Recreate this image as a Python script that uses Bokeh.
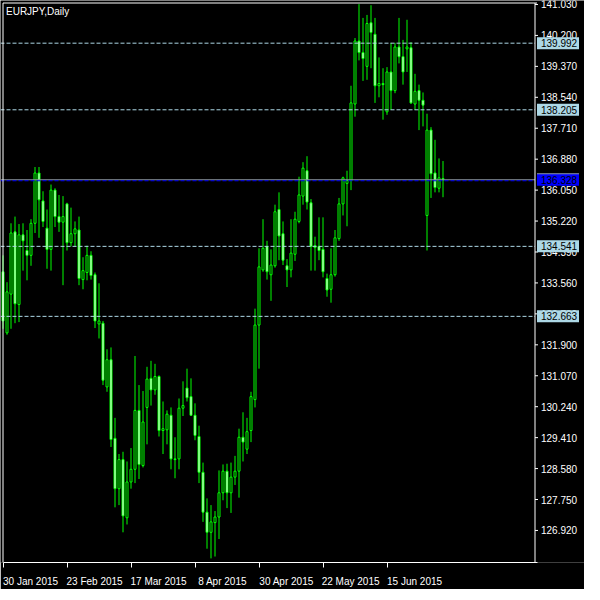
import pandas as pd
from bokeh.plotting import figure
from bokeh.models import (ColumnDataSource, Range1d, FixedTicker, Label, LinearAxis,
                          CustomLabelingPolicy)
from bokeh.core.properties import value
from bokeh.embed import file_html
from bokeh.resources import INLINE

chart_title = "EURJPY,Daily"
dates = pd.bdate_range("2015-01-30", periods=111)

opens = [133.86, 132.22, 133.26, 134.93, 132.98, 134.85, 134.43, 134.30, 135.16, 136.51,
         135.76, 135.03, 134.46, 136.05, 135.34, 135.19, 135.68, 134.64, 134.88, 134.98,
         133.65, 133.84, 134.30, 133.78, 132.46, 132.48, 130.77, 131.50, 129.39, 128.04,
         128.82, 127.26, 128.22, 128.56, 130.14, 128.66, 130.22, 131.00, 130.69, 131.05,
         129.60, 129.62, 130.01, 128.84, 128.84, 130.20, 130.74, 130.51, 130.01, 129.44,
         128.48, 127.41, 126.87, 127.13, 127.28, 127.93, 128.51, 127.93, 128.35, 128.51,
         129.42, 129.10, 129.60, 130.43, 132.43, 133.91, 134.54, 133.78, 134.02, 135.53,
         134.88, 134.02, 133.91, 134.33, 135.21, 135.89, 136.57, 135.71, 134.51, 134.54,
         134.46, 133.68, 133.39, 133.78, 134.75, 135.68, 136.23, 136.31, 138.36, 140.05,
         139.74, 139.37, 140.54, 140.23, 138.85, 138.91, 138.15, 139.22, 138.72, 139.89,
         139.63, 139.84, 139.87, 138.36, 138.72, 138.46, 135.37, 137.66, 136.51, 136.10,
         136.36]
highs = [134.30, 133.58, 135.16, 135.34, 135.14, 135.16, 134.98, 135.27, 136.67, 136.67,
         136.02, 135.53, 136.20, 136.10, 135.92, 135.89, 135.71, 135.58, 135.21, 135.34,
         134.25, 134.56, 134.41, 133.84, 133.55, 132.54, 131.78, 131.83, 129.94, 128.97,
         129.03, 128.77, 129.13, 131.60, 130.82, 130.66, 131.31, 131.47, 131.39, 131.08,
         130.38, 130.14, 130.22, 129.42, 130.46, 130.92, 131.26, 131.00, 130.33, 129.73,
         128.74, 127.78, 127.60, 127.44, 128.53, 128.69, 128.71, 128.74, 128.92, 129.65,
         130.09, 129.94, 130.64, 132.87, 134.49, 135.27, 134.69, 134.46, 135.66, 135.99,
         135.21, 134.20, 135.27, 135.47, 136.41, 136.80, 136.96, 135.81, 134.80, 135.32,
         135.32, 133.81, 134.49, 134.98, 135.84, 136.41, 136.57, 138.85, 140.13, 141.04,
         140.67, 140.75, 141.01, 140.67, 139.61, 139.32, 139.35, 140.00, 140.00, 140.67,
         140.08, 140.62, 140.02, 139.17, 138.88, 138.67, 138.10, 137.74, 137.40, 136.90,
         136.83]
lows = [132.33, 132.17, 132.33, 132.48, 132.51, 133.89, 133.63, 134.02, 134.90, 134.77,
        135.06, 133.94, 133.89, 135.06, 134.93, 133.50, 134.43, 134.54, 134.54, 133.50,
        133.39, 133.63, 133.65, 132.35, 132.07, 130.82, 130.64, 129.16, 127.54, 127.60,
        126.87, 127.08, 128.04, 128.19, 128.30, 128.61, 129.23, 130.27, 130.56, 129.44,
        128.97, 129.23, 128.56, 128.32, 128.56, 129.99, 130.38, 129.99, 129.34, 128.19,
        127.15, 126.43, 126.17, 126.22, 126.69, 127.73, 127.52, 127.39, 128.14, 127.80,
        128.77, 128.97, 129.29, 130.22, 131.26, 133.86, 133.65, 133.08, 133.97, 134.17,
        134.04, 133.45, 133.71, 134.15, 135.16, 135.66, 135.53, 133.89, 133.89, 134.17,
        133.71, 133.19, 133.03, 133.73, 134.69, 135.37, 135.08, 136.05, 138.02, 139.53,
        138.98, 139.01, 139.32, 138.39, 138.54, 137.94, 138.07, 138.20, 138.65, 139.45,
        138.88, 139.22, 138.36, 138.20, 137.66, 137.76, 134.43, 135.84, 135.99, 135.99,
        135.86]
closes = [132.54, 133.32, 134.90, 133.00, 134.85, 134.69, 134.30, 135.16, 136.51, 135.79,
          135.21, 134.46, 136.05, 135.34, 135.19, 135.34, 134.64, 134.88, 135.01, 133.68,
          133.89, 134.30, 133.76, 132.54, 132.54, 130.95, 131.50, 129.36, 128.04, 128.82,
          127.31, 128.22, 128.56, 130.14, 128.69, 129.83, 130.98, 130.69, 131.05, 129.60,
          129.65, 130.04, 128.84, 128.82, 130.20, 130.27, 130.48, 130.01, 129.47, 128.48,
          127.41, 126.87, 127.15, 127.28, 127.93, 128.51, 127.93, 128.35, 128.51, 129.42,
          129.29, 129.57, 130.51, 132.43, 133.99, 134.49, 133.86, 134.04, 135.47, 134.82,
          134.17, 133.91, 134.36, 135.27, 135.92, 136.64, 135.73, 134.54, 134.56, 134.43,
          133.86, 133.37, 133.78, 134.77, 135.68, 136.38, 136.31, 138.39, 140.05, 139.74,
          139.58, 140.52, 140.28, 138.85, 138.91, 138.88, 139.22, 138.72, 139.89, 139.63,
          139.22, 139.89, 138.39, 138.70, 138.46, 138.33, 137.66, 136.49, 136.12, 136.38,
          136.328]

price_ticks = [141.030, 140.200, 139.370, 138.540, 137.710, 136.880, 136.050, 135.220,
               134.390, 133.560, 132.730, 131.900, 131.070, 130.240, 129.410, 128.580,
               127.750, 126.920]
level_lines = [139.992, 138.205, 134.541, 132.663]
last_price = 136.328
date_tick_idx = [0, 16, 32, 48, 64, 80, 96]
date_tick_labels = [f"{dates[i].day} {dates[i].strftime('%b %Y')}" for i in date_tick_idx]

# ---- layout constants (pixels -> data) ----
FRAME_W, FRAME_H = 584, 562
PX_PER_BAR = 4.0
X0 = -0.625                          # bar k sits at 2.5 + 4k px
X1 = X0 + FRAME_W / PX_PER_BAR
AX = 133.0                           # price-scale line position (in bars)
Y_BOT, Y_TOPLINE = 126.06, 141.07
PX_PER_YEN = (FRAME_H - 2.5) / (Y_TOPLINE - Y_BOT)
Y1 = Y_TOPLINE + 2.5 / PX_PER_YEN
BOX_H = 12 / PX_PER_YEN
LABEL_SHIFT = 6.9
FONT = "Liberation Sans"
FS = "10px"
GREEN = "#00FF00"
LIGHTBLUE = "#ADD8E6"

xs = list(range(len(opens)))
tops = [max(o, c) for o, c in zip(opens, closes)]
bottoms = [min(o, c) for o, c in zip(opens, closes)]
fills = ["white" if c < o else "black" for o, c in zip(opens, closes)]
src = ColumnDataSource(dict(x=xs, open=opens, high=highs, low=lows, close=closes,
                            top=tops, bottom=bottoms, fill=fills))

p = figure(frame_width=FRAME_W, frame_height=FRAME_H, output_backend="svg",
           toolbar_location=None, x_range=Range1d(X0, X1), y_range=Range1d(Y_BOT, Y1),
           y_axis_location=None, min_border_left=0, min_border_right=0,
           min_border_top=0, min_border_bottom=0,
           background_fill_color="black", border_fill_color="black")
p.grid.visible = False
p.outline_line_color = None

# candles
p.segment(x0="x", y0="high", x1="x", y1="low", source=src, line_color=GREEN, line_width=1)
p.vbar(x="x", width=0.5, top="top", bottom="bottom", source=src,
       fill_color="fill", line_color=GREEN, line_width=1)

# level lines
n = len(level_lines)
p.segment(x0=[X0] * n, x1=[AX] * n, y0=level_lines, y1=level_lines,
          line_color=LIGHTBLUE, line_dash="4 2", line_width=1)
p.segment(x0=[X0], x1=[AX], y0=[last_price], y1=[last_price], line_color="#8C96A0", line_width=1)
p.segment(x0=[X0], x1=[AX], y0=[last_price - 1 / PX_PER_YEN], y1=[last_price - 1 / PX_PER_YEN],
          line_color="#0000FF", line_dash="4 2", line_width=1)

# chart frame lines (left, top) and price-scale line
p.segment(x0=[0, 0, AX], x1=[0, AX + 0.5, AX], y0=[Y_BOT, Y_TOPLINE, Y_BOT],
          y1=[Y_TOPLINE, Y_TOPLINE, Y_TOPLINE], line_color="white", line_width=1)

# price scale: ticks and labels
m = len(price_ticks)
p.segment(x0=[AX] * m, x1=[AX + 0.75] * m, y0=price_ticks, y1=price_ticks,
          line_color="white", line_width=1)
p.text(x=[AX + 1.5] * m, y=price_ticks, text=[f"{t:.3f}" for t in price_ticks],
       text_color="white", text_font=value(FONT), text_font_size=FS,
       text_baseline="middle", text_align="left")

# highlighted level labels
p.quad(left=[AX + 0.5] * n, right=[AX + 11.0] * n,
       bottom=[l - BOX_H / 2 for l in level_lines], top=[l + BOX_H / 2 for l in level_lines],
       fill_color=LIGHTBLUE, line_color=None)
p.text(x=[AX + 1.5] * n, y=level_lines, text=[f"{l:.3f}" for l in level_lines],
       text_color="black", text_font=value(FONT), text_font_size=FS,
       text_baseline="middle", text_align="left")
p.quad(left=[AX + 0.5], right=[AX + 11.0], bottom=[last_price - BOX_H / 2],
       top=[last_price + BOX_H / 2], fill_color="#0000FF", line_color=None)
p.segment(x0=[AX + 0.5], x1=[AX + 11.0], y0=[last_price + BOX_H / 2],
          y1=[last_price + BOX_H / 2], line_color="#8C96A0", line_width=1)
p.text(x=[AX + 1.5], y=[last_price], text=[f"{last_price:.3f}"],
       text_color="black", text_font=value(FONT), text_font_size=FS,
       text_baseline="middle", text_align="left")

# time axis: tick marks only
xa = p.xaxis[0]
xa.ticker = FixedTicker(ticks=date_tick_idx, minor_ticks=[])
xa.bounds = (0, AX + 0.5)
xa.axis_line_color = "white"
xa.major_tick_line_color = "white"
xa.major_tick_out = 5
xa.major_tick_in = 0
xa.minor_tick_line_color = None
xa.major_label_standoff = 0
xa.major_label_policy = CustomLabelingPolicy(
    code="for (const i of indices) { indices.unset(i) }\nreturn indices")

# time axis: labels on a shifted range so each starts at its tick
p.extra_x_ranges = {"datelab": Range1d(X0 - LABEL_SHIFT, X1 - LABEL_SHIFT)}
xl = LinearAxis(x_range_name="datelab",
                ticker=FixedTicker(ticks=date_tick_idx, minor_ticks=[]),
                major_label_overrides={i: lab for i, lab in zip(date_tick_idx, date_tick_labels)},
                axis_line_color=None, major_tick_line_color=None, minor_tick_line_color=None,
                major_tick_out=0, major_tick_in=0, major_label_standoff=-3,
                major_label_text_color="white", major_label_text_font=FONT,
                major_label_text_font_size=FS)
p.add_layout(xl, "below")

p.add_layout(Label(x=0, y=Y_TOPLINE, x_offset=3, y_offset=-3, text=chart_title,
                   text_align="left", text_baseline="top", text_color="white",
                   text_font=FONT, text_font_size=FS))

open("out.html", "w").write(file_html(p, INLINE))
